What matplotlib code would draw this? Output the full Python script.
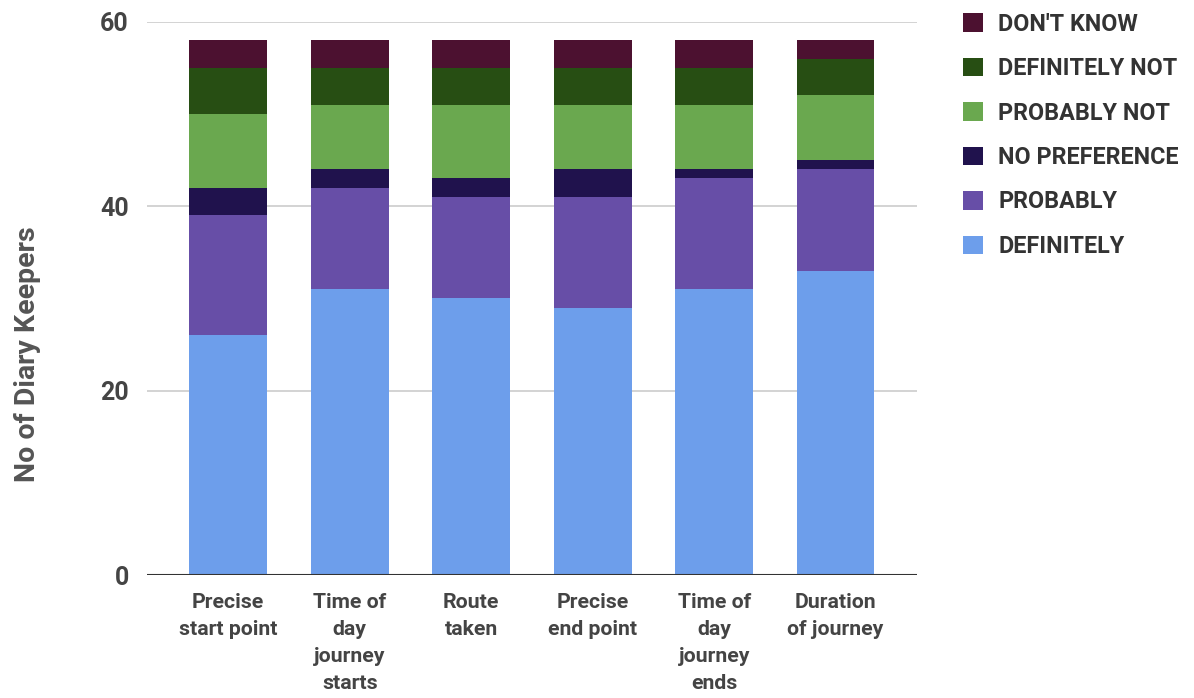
import numpy as np
import matplotlib.pyplot as plt

plt.rcParams['font.family'] = ['Roboto', 'DejaVu Sans']
plt.rcParams['font.weight'] = 'bold'

categories = ['Precise\nstart point', 'Time of\nday\njourney\nstarts', 'Route\ntaken',
              'Precise\nend point', 'Time of\nday\njourney\nends', 'Duration\nof journey']

definitely = [26, 31, 30, 29, 31, 33]
probably = [13, 11, 11, 12, 12, 11]
no_preference = [3, 2, 2, 3, 1, 1]
probably_not = [8, 7, 8, 7, 7, 7]
definitely_not = [5, 4, 4, 4, 4, 4]
dont_know = [3, 3, 3, 3, 3, 2]

series = [
    ('DEFINITELY', definitely, '#6d9eeb'),
    ('PROBABLY', probably, '#674ea7'),
    ('NO PREFERENCE', no_preference, '#20124d'),
    ('PROBABLY NOT', probably_not, '#6aa84f'),
    ('DEFINITELY NOT', definitely_not, '#274e13'),
    ("DON'T KNOW", dont_know, '#4c1130'),
]

fig = plt.figure(figsize=(11.94, 6.98), dpi=100)
ax = fig.add_axes([0.123, 0.176, 0.645, 0.793])

x = np.arange(len(categories))
bottom = np.zeros(len(categories))
handles = []
for name, vals, col in series:
    b = ax.bar(x, vals, 0.64, bottom=bottom, color=col, label=name, zorder=3)
    handles.append(b)
    bottom += np.array(vals)

ax.set_ylim(0, 60)
ax.set_xlim(-0.67, 5.67)
ax.set_yticks([0, 20, 40, 60])
ax.grid(axis='y', color='#cccccc', linewidth=1.2, zorder=0)
ax.axhline(0, color='#333333', linewidth=1.5, zorder=4)
for s in ax.spines.values():
    s.set_visible(False)
ax.tick_params(axis='both', length=0, colors='#444444')
ax.tick_params(axis='y', labelsize=18, pad=13)
ax.tick_params(axis='x', labelsize=15.3, pad=13)
ax.set_xticks(x)
ax.set_xticklabels(categories, linespacing=1.52, va='top')
ax.set_ylabel('No of Diary Keepers', fontsize=20.5, fontweight='bold',
              color='#555555', labelpad=0)
ax.yaxis.set_label_coords(-0.138, 0.4)

leg = fig.legend(handles[::-1], [s[0] for s in series][::-1], loc='upper left',
                 bbox_to_anchor=(0.789, 1.012), frameon=False, fontsize=16.8,
                 handlelength=0.85, handleheight=0.85, labelspacing=0.92,
                 handletextpad=0.65)
for t in leg.get_texts():
    t.set_color('#333333')

fig.savefig('out.png', dpi=100)
